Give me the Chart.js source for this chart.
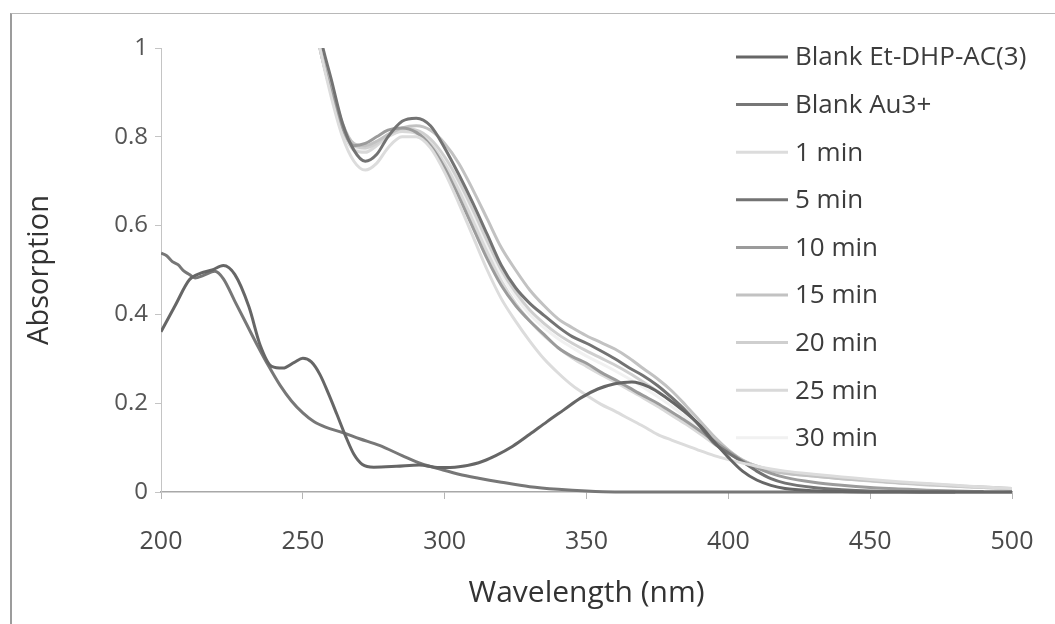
<!DOCTYPE html>
<html>
<head>
<meta charset="utf-8">
<script src="https://cdn.jsdelivr.net/npm/chart.js@4.4.1/dist/chart.umd.min.js"></script>
<style>
  html, body { margin: 0; padding: 0; background: #fff; }
  #wrap { position: relative; width: 1055px; height: 624px; overflow: hidden; }
  #c { position: absolute; left: 0; top: 0; }
  #frame { position: absolute; left: 10px; top: 13px; width: 1045px; height: 620px;
           border-left: 2px solid #9c9c9c; border-top: 1px solid #b8b8b8; pointer-events: none; }
</style>
</head>
<body>
<div id="wrap">
  <canvas id="c" width="1055" height="624"></canvas>
  <div id="frame"></div>
</div>
<script>
// Axis ticks
const xTicks = [200, 250, 300, 350, 400, 450, 500];
const yTicks = [0, 0.2, 0.4, 0.6, 0.8, 1];

// Blank Et-DHP-AC(3)
const etWl  = [200, 205, 210, 214, 218, 222, 226, 231, 235, 239, 243, 247, 250, 253, 256, 259, 262, 265, 268, 271, 275, 283, 291, 298, 305, 312, 318, 324, 330, 336, 342, 348, 354, 360, 366, 372, 378, 384, 390, 395, 400, 405, 410, 415, 420, 430, 440, 450, 500];
const etAbs = [0.361, 0.42, 0.478, 0.493, 0.5, 0.51, 0.49, 0.417, 0.33, 0.283, 0.279, 0.292, 0.301, 0.293, 0.265, 0.222, 0.175, 0.127, 0.085, 0.062, 0.056, 0.058, 0.061, 0.055, 0.057, 0.066, 0.082, 0.103, 0.13, 0.158, 0.185, 0.212, 0.232, 0.244, 0.248, 0.237, 0.213, 0.184, 0.15, 0.113, 0.078, 0.047, 0.027, 0.015, 0.008, 0.003, 0.001, 0, 0];

// Blank Au3+
const auWl  = [200, 202, 204, 206, 208, 210, 212, 215, 219, 222, 226, 230, 234, 238, 242, 246, 250, 254, 258, 264, 270, 277, 285, 292, 298, 305, 312, 320, 330, 340, 350, 360, 500];
const auAbs = [0.538, 0.532, 0.519, 0.512, 0.498, 0.49, 0.482, 0.488, 0.497, 0.48, 0.43, 0.38, 0.33, 0.283, 0.24, 0.205, 0.178, 0.158, 0.146, 0.134, 0.12, 0.105, 0.082, 0.063, 0.052, 0.04, 0.031, 0.022, 0.012, 0.006, 0.002, 0, 0];

// Reaction spectra, shared wavelength grid
const rxWl = [250, 256, 260, 264, 268, 272, 276, 280, 285, 290, 295, 300, 305, 310, 315, 320, 325, 330, 335, 340, 345, 350, 355, 360, 365, 370, 375, 380, 385, 390, 395, 400, 405, 410, 415, 420, 430, 440, 450, 460, 470, 480, 490, 500];
const min1  = [1.2, 1.0, 0.89, 0.8, 0.745, 0.725, 0.74, 0.775, 0.8, 0.8, 0.775, 0.72, 0.65, 0.575, 0.5, 0.435, 0.385, 0.34, 0.3, 0.268, 0.24, 0.218, 0.198, 0.182, 0.165, 0.148, 0.13, 0.117, 0.105, 0.093, 0.082, 0.073, 0.065, 0.058, 0.052, 0.047, 0.04, 0.034, 0.028, 0.023, 0.019, 0.015, 0.011, 0.008];
const min5  = [1.25, 1.03, 0.93, 0.83, 0.77, 0.745, 0.76, 0.8, 0.835, 0.842, 0.825, 0.775, 0.715, 0.65, 0.58, 0.51, 0.46, 0.425, 0.398, 0.372, 0.35, 0.335, 0.318, 0.3, 0.28, 0.262, 0.24, 0.213, 0.183, 0.148, 0.11, 0.088, 0.068, 0.047, 0.03, 0.02, 0.01, 0.005, 0.002, 0.001, 0, 0, null, null];
const min10 = [1.2, 1.0, 0.9, 0.82, 0.78, 0.785, 0.8, 0.815, 0.82, 0.81, 0.78, 0.73, 0.665, 0.595, 0.525, 0.465, 0.42, 0.385, 0.355, 0.325, 0.305, 0.29, 0.27, 0.253, 0.235, 0.217, 0.2, 0.18, 0.16, 0.138, 0.115, 0.092, 0.07, 0.055, 0.042, 0.033, 0.022, 0.015, 0.01, 0.007, 0.004, 0.002, 0.001, null];
const min15 = [1.2, 1.02, 0.92, 0.83, 0.785, 0.78, 0.79, 0.805, 0.82, 0.825, 0.815, 0.785, 0.74, 0.68, 0.615, 0.55, 0.5, 0.455, 0.42, 0.39, 0.37, 0.352, 0.337, 0.322, 0.302, 0.278, 0.255, 0.228, 0.195, 0.16, 0.125, 0.095, 0.072, 0.058, 0.048, 0.042, 0.036, 0.03, 0.026, 0.021, 0.018, 0.014, 0.011, 0.008];
const min20 = [1.2, 1.01, 0.91, 0.825, 0.78, 0.775, 0.785, 0.805, 0.818, 0.815, 0.795, 0.755, 0.7, 0.635, 0.565, 0.5, 0.45, 0.41, 0.38, 0.355, 0.335, 0.318, 0.302, 0.286, 0.268, 0.248, 0.227, 0.204, 0.178, 0.15, 0.12, 0.093, 0.072, 0.058, 0.049, 0.043, 0.036, 0.03, 0.025, 0.02, 0.016, 0.013, 0.01, 0.007];
const min25 = [1.2, 1.0, 0.9, 0.815, 0.77, 0.765, 0.78, 0.8, 0.812, 0.808, 0.785, 0.74, 0.68, 0.61, 0.54, 0.475, 0.425, 0.385, 0.352, 0.325, 0.302, 0.283, 0.265, 0.248, 0.23, 0.212, 0.193, 0.173, 0.153, 0.131, 0.108, 0.087, 0.07, 0.058, 0.05, 0.044, 0.037, 0.031, 0.026, 0.021, 0.017, 0.013, 0.01, 0.007];
const min30 = [1.2, 1.0, 0.9, 0.82, 0.775, 0.77, 0.785, 0.805, 0.815, 0.81, 0.79, 0.75, 0.69, 0.62, 0.55, 0.49, 0.44, 0.4, 0.37, 0.345, 0.325, 0.306, 0.29, 0.273, 0.255, 0.236, 0.215, 0.193, 0.168, 0.142, 0.115, 0.09, 0.071, 0.058, 0.05, 0.044, 0.037, 0.031, 0.026, 0.021, 0.017, 0.013, 0.01, 0.007];

const seriesNames  = ['Blank Et-DHP-AC(3)', 'Blank Au3+', '1 min', '5 min', '10 min', '15 min', '20 min', '25 min', '30 min'];
const seriesColors = ['#666666', '#777777', '#dcdcdc', '#737373', '#9b9b9b', '#c2c2c2', '#cfcfcf', '#d9d9d9', '#f1f1f1'];
const seriesX = [etWl, auWl, rxWl, rxWl, rxWl, rxWl, rxWl, rxWl, rxWl];
const seriesY = [etAbs, auAbs, min1, min5, min10, min15, min20, min25, min30];

const FONT = '"Open Sans", "DejaVu Sans", sans-serif';

const datasets = seriesNames.map((name, i) => ({
  label: name,
  data: seriesX[i].map((x, j) => ({ x: x, y: seriesY[i][j] })),
  borderColor: seriesColors[i],
  backgroundColor: seriesColors[i],
  borderWidth: 3,
  pointRadius: 0,
  fill: false,
  cubicInterpolationMode: 'monotone',
  spanGaps: false,
  clip: { left: 0, top: 0, right: 0, bottom: 4 }
}));

// Series key drawn inside the plot area on the right
const sideLegend = {
  id: 'sideLegend',
  afterDraw(chart) {
    const ctx = chart.ctx;
    ctx.save();
    ctx.font = '26px ' + FONT;
    ctx.textBaseline = 'middle';
    chart.data.datasets.forEach((ds, i) => {
      const y = 57 + i * 47.6;
      ctx.strokeStyle = ds.borderColor;
      ctx.lineWidth = 3;
      ctx.beginPath();
      ctx.moveTo(736, y);
      ctx.lineTo(788, y);
      ctx.stroke();
      ctx.fillStyle = '#3c3c3c';
      ctx.fillText(ds.label, 795, y + 1);
    });
    ctx.restore();
  }
};

new Chart(document.getElementById('c'), {
  type: 'line',
  data: { datasets: datasets },
  plugins: [sideLegend],
  options: {
    responsive: false,
    animation: false,
    events: [],
    layout: { padding: { top: 48, right: 43, bottom: 0, left: 0 } },
    plugins: { legend: { display: false }, tooltip: { enabled: false } },
    scales: {
      x: {
        type: 'linear',
        min: 200, max: 500,
        afterBuildTicks: s => { s.ticks = xTicks.map(v => ({ value: v })); },
        afterFit: s => { s.height = 132; s.paddingRight = 0; s.paddingLeft = 0; },
        border: { color: '#a8a8a8', width: 1.5 },
        grid: { drawOnChartArea: false, color: '#b5b5b5', tickLength: 7 },
        ticks: { color: '#4a4a4a', font: { family: FONT, size: 25 }, padding: 28, maxRotation: 0,
                 callback: v => String(v) },
        title: { display: true, text: 'Wavelength (nm)', color: '#333', font: { family: FONT, size: 30 }, padding: { top: 0, bottom: 13 } }
      },
      y: {
        min: 0, max: 1,
        afterBuildTicks: s => { s.ticks = yTicks.map(v => ({ value: v })); },
        afterFit: s => { s.width = 161; },
        border: { color: '#c4c4c4', width: 1 },
        grid: { drawOnChartArea: false, color: '#c4c4c4', tickLength: 6 },
        ticks: { color: '#555', font: { family: FONT, size: 24 }, padding: 7,
                 callback: v => String(v) },
        title: { display: true, text: 'Absorption', color: '#333', font: { family: FONT, size: 29 }, padding: { top: 22, bottom: 0 } }
      }
    }
  }
});
</script>
</body>
</html>
